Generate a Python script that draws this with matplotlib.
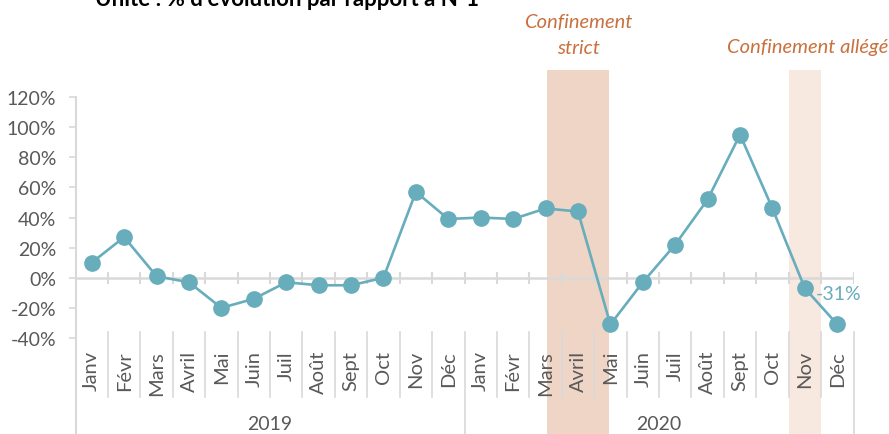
import matplotlib
matplotlib.use("Agg")
from matplotlib import pyplot as plt
from matplotlib.patches import Rectangle
from matplotlib.transforms import blended_transform_factory

# données : % d'évolution par rapport à N-1
mois = ["Janv", "Févr", "Mars", "Avril", "Mai", "Juin",
        "Juil", "Août", "Sept", "Oct", "Nov", "Déc"]
annees = ["2019", "2020"]
valeurs_2019 = [10, 27, 1, -3, -20, -14, -3, -5, -5, 0, 57, 39]
valeurs_2020 = [40, 39, 46, 44, -31, -3, 22, 52, 95, 46, -7, -31]
yticks = [-40, -20, 0, 20, 40, 60, 80, 100, 120]

valeurs = valeurs_2019 + valeurs_2020
labels = mois * 2
n = len(valeurs)
x = [i + 0.5 for i in range(n)]

W, H = 889, 435
gris = "#d9d9d9"
texte = "#595959"
bleu = "#67adbc"
orange = "#c9703e"
police = "Lato"

fig = plt.figure(figsize=(W / 100, H / 100), dpi=100)
ax = fig.add_axes([75.5 / W, (H - 339) / H, (853.5 - 75.5) / W, (339 - 98) / H])
ax.patch.set_visible(False)
ax.set_xlim(0, n)
ax.set_ylim(-40, 120)
for s in ax.spines.values():
    s.set_visible(False)

tr = blended_transform_factory(ax.transData, fig.transFigure)
def fy(p):
    return 1 - p / H

# zones de confinement
ax.add_patch(Rectangle((14.55, 0), 1.9, fy(71), transform=tr, color="#efd5c5",
                       zorder=0, clip_on=False, lw=0))
ax.add_patch(Rectangle((22.0, 0), 1.0, fy(71), transform=tr, color="#f7e8e0",
                       zorder=0, clip_on=False, lw=0))

# axe des ordonnées
ax.set_yticks(yticks)
ax.set_yticklabels([f"{v}%" for v in yticks], fontsize=14, color=texte, family=police)
ax.tick_params(axis="y", length=5, width=1.2, color=gris, pad=9)
ax.set_xticks([])
ax.add_line(plt.Line2D([0, 0], [fy(98), fy(435)], transform=tr, color=gris,
                       lw=1.5, clip_on=False, zorder=1))

# axe des catégories à 0 %
ax.axhline(0, color=gris, lw=1.8, zorder=1)
ax.vlines(range(1, n + 1), -4, 4, color=gris, lw=1.5, zorder=1)

# séparateurs sous le graphique
for i in range(1, n + 1):
    bas = 435 if i % 12 == 0 else 398
    ax.add_line(plt.Line2D([i, i], [fy(333), fy(bas)], transform=tr, color=gris,
                           lw=1.2, clip_on=False, zorder=1))

for xi, lab in zip(x, labels):
    ax.text(xi, fy(351), lab, transform=tr, rotation=90, ha="center", va="top",
            fontsize=14.5, color=texte, family=police)
for k, an in enumerate(annees):
    ax.text(12 * k + 6, fy(425), an, transform=tr, ha="center", va="center",
            fontsize=14, color=texte, family=police)

# série
ax.plot(x, valeurs, color=bleu, lw=1.9, marker="o", markersize=11, zorder=3,
        clip_on=False)
ax.text(22.85, -10.5, "-31%", color=bleu, fontsize=14, family=police,
        ha="left", va="center")

# annotations
fig.text(578 / W, fy(23), "Confinement", color=orange, style="italic",
         fontsize=14.5, family=police, ha="center", va="center")
fig.text(578 / W, fy(48), "strict", color=orange, style="italic",
         fontsize=14.5, family=police, ha="center", va="center")
fig.text(888 / W, fy(48), "Confinement allégé", color=orange, style="italic",
         fontsize=14.5, family=police, ha="right", va="center")

fig.text(95 / W, fy(6), "Unité : % d'évolution par rapport à N-1", color="black",
         fontweight="bold", fontsize=16, family=police, ha="left", va="baseline")

fig.savefig("out.png", dpi=100)
